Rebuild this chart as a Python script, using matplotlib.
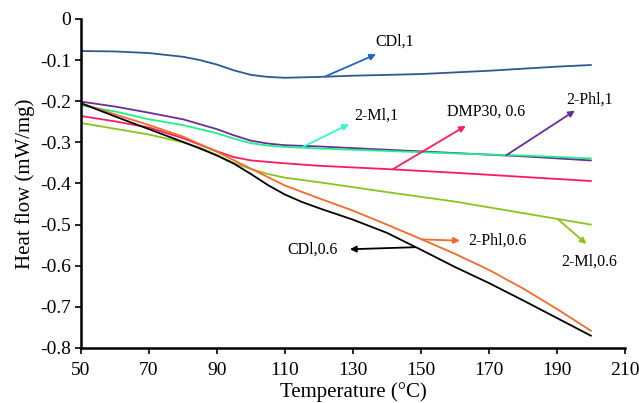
import numpy as np
import matplotlib.pyplot as plt

plt.rcParams['font.family'] = ['Liberation Serif', 'DejaVu Serif']
plt.rcParams['axes.unicode_minus'] = False

# curves
T_cdl1 = [50, 60, 70, 80, 85, 90, 95, 100, 105, 110, 120, 130, 140, 150, 160, 170, 180, 190, 200]
cdl1 = [-0.078, -0.079, -0.083, -0.092, -0.100, -0.111, -0.125, -0.136, -0.141, -0.143,
        -0.141, -0.138, -0.136, -0.134, -0.130, -0.126, -0.121, -0.116, -0.112]

T_p1 = [50, 60, 70, 80, 90, 95, 100, 105, 110, 120, 140, 160, 180, 200]
phl1 = [-0.201, -0.213, -0.228, -0.244, -0.268, -0.283, -0.296, -0.303, -0.307, -0.310,
        -0.318, -0.326, -0.334, -0.344]
ml1 = [-0.210, -0.225, -0.244, -0.258, -0.278, -0.291, -0.302, -0.308, -0.311, -0.315,
       -0.321, -0.327, -0.332, -0.339]

T_dmp = [50, 60, 70, 80, 85, 90, 95, 100, 110, 120, 140, 160, 180, 200]
dmp = [-0.236, -0.249, -0.264, -0.290, -0.306, -0.322, -0.336, -0.344, -0.351, -0.357,
       -0.365, -0.374, -0.384, -0.394]

T_ml6 = [50, 60, 70, 80, 85, 90, 95, 100, 105, 110, 120, 140, 160, 180, 200]
ml06 = [-0.253, -0.267, -0.281, -0.300, -0.313, -0.331, -0.350, -0.365, -0.377, -0.386,
        -0.397, -0.421, -0.444, -0.472, -0.500]

T_ph6 = [50, 60, 70, 80, 90, 100, 110, 120, 130, 140, 150, 160, 170, 180, 190, 200]
phl06 = [-0.205, -0.232, -0.258, -0.286, -0.323, -0.364, -0.405, -0.436, -0.466, -0.500,
         -0.535, -0.571, -0.610, -0.655, -0.705, -0.758]

T_cd6 = [50, 60, 70, 80, 85, 90, 95, 100, 105, 110, 115, 120, 130, 140, 150, 160, 170,
         180, 190, 200]
cdl06 = [-0.205, -0.237, -0.268, -0.299, -0.315, -0.332, -0.352, -0.377, -0.404, -0.427,
         -0.445, -0.460, -0.488, -0.520, -0.561, -0.603, -0.642, -0.684, -0.727, -0.770]

xticks = [50, 70, 90, 110, 130, 150, 170, 190, 210]
yticks = [0, -0.1, -0.2, -0.3, -0.4, -0.5, -0.6, -0.7, -0.8]
ylabels = ['0', '-0.1', '-0.2', '-0.3', '-0.4', '-0.5', '-0.6', '-0.7', '-0.8']

fig = plt.figure(figsize=(6.39, 4.03), dpi=100)
ax = fig.add_axes([0.1268, 0.1365, 0.851, 0.8165])

lw = 1.3
ax.plot(T_cdl1, cdl1, color='#2C5A8E', lw=lw)
ax.plot(T_p1, phl1, color='#6A2C9A', lw=lw)
ax.plot(T_p1, ml1, color='#1EF08C', lw=lw)
ax.plot(T_dmp, dmp, color='#FF1A5E', lw=lw)
ax.plot(T_ml6, ml06, color='#8CC21E', lw=lw)
ax.plot(T_ph6, phl06, color='#F26B2A', lw=lw)
ax.plot(T_cd6, cdl06, color='black', lw=lw)

# labels with arrows: (text, text pos, arrow tail, arrow head, colour, ha)
notes = [
    ('CDl,1', (142.4, -0.056), (121.8, -0.140), (136.8, -0.086), '#1F66C4', 'center'),
    ('2-Ml,1', (136.8, -0.234), (115.3, -0.311), (128.8, -0.256), '#33F5CF', 'center'),
    ('DMP30, 0.6', (169.1, -0.226), (141.8, -0.365), (163.2, -0.260), '#FF1A5E', 'center'),
    ('2-Phl,1', (199.7, -0.197), (175.2, -0.331), (195.3, -0.223), '#6A2C9A', 'center'),
    ('2-Ml,0.6', (199.6, -0.590), (190.3, -0.487), (198.7, -0.547), '#8CC21E', 'center'),
    ('2-Phl,0.6', (163.8, -0.539), (150.2, -0.536), (161.5, -0.539), '#F26B2A', 'left'),
    ('CDl,0.6', (118.1, -0.562), (148.2, -0.555), (129.1, -0.560), 'black', 'center'),
]
for txt, tpos, tail, head, c, ha in notes:
    ax.annotate('', xy=head, xytext=tail,
                arrowprops=dict(arrowstyle='-|>', color=c, lw=1.3, mutation_scale=9,
                                shrinkA=0, shrinkB=0))
    ax.text(tpos[0], tpos[1], txt, fontsize=11.5, ha=ha, va='center')

ax.set_xlim(50, 210)
ax.set_ylim(-0.8, 0)
ax.set_xticks(xticks)
ax.set_xticklabels([str(t) for t in xticks])
ax.set_yticks(yticks)
ax.set_yticklabels(ylabels)
ax.tick_params(labelsize=14, direction='out', length=4, width=1.2, pad=3)
ax.tick_params(axis='x', pad=6)
for s in ['top', 'right']:
    ax.spines[s].set_visible(False)
for s in ['left', 'bottom']:
    ax.spines[s].set_linewidth(1.8)

ax.set_xlabel('Temperature (°C)', fontsize=15, labelpad=2)
ax.set_ylabel('Heat flow (mW/mg)', fontsize=15, labelpad=4)

fig.savefig('out.png', dpi=100)
